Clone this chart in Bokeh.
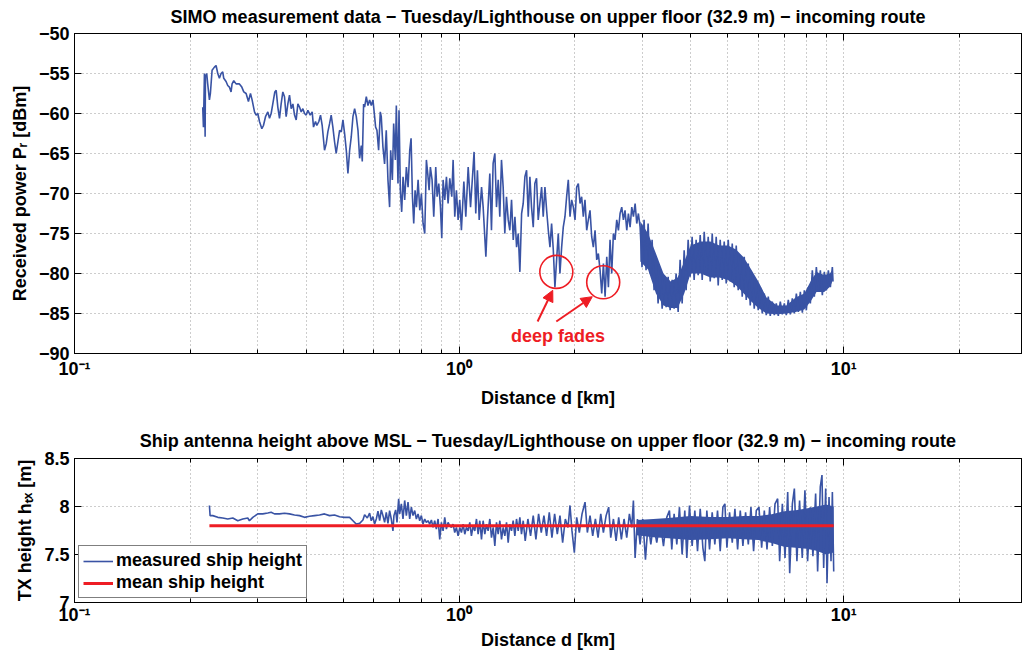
from bokeh.plotting import figure
from bokeh.layouts import column
from bokeh.models import (Range1d, FixedTicker, CustomJSTickFormatter, LogAxis, LinearAxis,
                          Legend, LegendItem, Arrow, NormalHead, Label)
from bokeh.embed import file_html
from bokeh.resources import INLINE

# ---------------- data ----------------
# Received power trace: distance [km] / power [dBm]
power_dist = [
    0.2155, 0.2164, 0.2177, 0.2186, 0.2190, 0.2207, 0.2220, 0.2243, 0.2256, 0.2279,
    0.2311, 0.2334, 0.2358, 0.2381, 0.2405, 0.2429, 0.2444, 0.2478, 0.2503, 0.2528,
    0.2553, 0.2569, 0.2595, 0.2631, 0.2684, 0.2723, 0.2755, 0.2794, 0.2833, 0.2868,
    0.2896, 0.2938, 0.2967, 0.2997, 0.3027, 0.3070, 0.3100, 0.3138, 0.3182, 0.3214,
    0.3246, 0.3278, 0.3318, 0.3345, 0.3378, 0.3412, 0.3446, 0.3481, 0.3516, 0.3551,
    0.3587, 0.3623, 0.3660, 0.3697, 0.3734, 0.3771, 0.3809, 0.3847, 0.3886, 0.3925,
    0.3964, 0.4004, 0.4044, 0.4101, 0.4150, 0.4183, 0.4233, 0.4267, 0.4319, 0.4362,
    0.4406, 0.4468, 0.4513, 0.4558, 0.4604, 0.4650, 0.4697, 0.4744, 0.4791, 0.4842,
    0.4890, 0.4940, 0.4989, 0.5039, 0.5090, 0.5140, 0.5193, 0.5244, 0.5297, 0.5351,
    0.5404, 0.5459, 0.5513, 0.5568, 0.5601, 0.5646, 0.5680, 0.5738, 0.5795, 0.5853,
    0.5912, 0.5971, 0.6031, 0.6067, 0.6115, 0.6177, 0.6239, 0.6276, 0.6339, 0.6402,
    0.6466, 0.6532, 0.6597,
    0.6639, 0.6706, 0.6759, 0.6827, 0.6868, 0.6937, 0.6979, 0.7035, 0.7092, 0.7150,
    0.7221, 0.7294, 0.7368, 0.7442, 0.7502, 0.7563, 0.7622, 0.7684, 0.7746, 0.7824,
    0.7902, 0.7980, 0.8060, 0.8142, 0.8222, 0.8289, 0.8356, 0.8421, 0.8507, 0.8593,
    0.8696, 0.8767, 0.8855, 0.8944, 0.9015, 0.9087, 0.9179, 0.9271, 0.9363, 0.9458,
    0.9572, 0.9649, 0.9745, 0.9842, 0.9942,
    1.004, 1.014, 1.029, 1.041, 1.056, 1.071, 1.083, 1.094, 1.105, 1.116,
    1.128, 1.144, 1.155, 1.174, 1.185, 1.202, 1.214, 1.226, 1.239, 1.251,
    1.264, 1.276, 1.289, 1.302, 1.315, 1.328, 1.342, 1.355, 1.369, 1.383,
    1.397, 1.411, 1.425, 1.439, 1.454, 1.468, 1.483, 1.498, 1.513, 1.528,
    1.543, 1.559, 1.574, 1.590, 1.606, 1.622, 1.639, 1.655, 1.672, 1.689,
    1.706, 1.723, 1.740, 1.758, 1.775, 1.793, 1.811, 1.829, 1.848, 1.866,
    1.885, 1.904, 1.923, 1.943, 1.962, 1.982, 2.002, 2.022, 2.042, 2.063,
    2.083, 2.104, 2.125, 2.147, 2.168, 2.190, 2.212, 2.234, 2.257, 2.280,
    2.302, 2.326, 2.349, 2.373, 2.397, 2.421, 2.445, 2.469, 2.494, 2.519,
    2.544, 2.570, 2.596, 2.622, 2.648, 2.675, 2.701, 2.729, 2.756, 2.784,
    2.812, 2.840, 2.869, 2.897, 2.926, 2.956,
    2.990, 3.027, 3.063, 3.101, 3.138, 3.176, 3.214, 3.253, 3.292, 3.332,
    3.373, 3.413, 3.455, 3.496, 3.538, 3.581, 3.624, 3.667, 3.712, 3.756,
    3.802, 3.848, 3.894, 3.941, 3.989, 4.036, 4.085, 4.134, 4.184, 4.236,
    4.287, 4.339, 4.391, 4.444, 4.498, 4.552, 4.607, 4.662, 4.718, 4.775,
    4.833, 4.891, 4.950, 5.010, 5.070, 5.132, 5.193, 5.256, 5.319, 5.383,
    5.448, 5.514, 5.580, 5.648, 5.716, 5.785, 5.854, 5.925, 5.996, 6.069,
    6.142, 6.216, 6.291, 6.367, 6.444, 6.522, 6.601, 6.680, 6.761, 6.843,
    6.925, 7.009, 7.093, 7.178, 7.265, 7.353, 7.441, 7.533, 7.624, 7.715,
    7.808, 7.902, 7.997, 8.094, 8.191, 8.289, 8.389, 8.491, 8.593, 8.697,
    8.801, 8.907, 9.015, 9.124, 9.234, 9.345, 9.382,
]
power_dbm = [
    -59.2, -61.7, -55.0, -62.9, -55.4, -55.0, -56.3, -58.3, -57.5, -54.6,
    -54.2, -54.0, -55.0, -55.6, -55.0, -54.8, -55.6, -56.0, -56.5, -56.7,
    -57.3, -56.3, -55.9, -56.3, -56.3, -56.7, -57.3, -57.5, -58.5, -57.5,
    -58.3, -59.8, -60.2, -60.0, -61.0, -61.9, -61.5, -60.4, -59.8, -60.6,
    -60.0, -58.8, -57.3, -57.1, -59.2, -60.6, -58.8, -57.3, -57.9, -60.4,
    -58.8, -57.7, -59.4, -58.8, -60.2, -60.8, -58.8, -59.2, -59.8, -59.4,
    -60.0, -60.2, -59.6, -60.2, -59.8, -61.7, -61.0, -61.5, -61.0, -60.2,
    -61.5, -64.6, -63.8, -62.3, -61.3, -60.2, -61.7, -63.5, -65.0, -63.5,
    -62.1, -62.3, -60.8, -62.5, -64.6, -67.5, -64.6, -62.9, -60.4, -59.4,
    -60.4, -62.1, -65.6, -64.0, -66.0, -58.8, -59.2, -57.9, -59.0, -58.3,
    -59.0, -58.3, -60.4, -61.7, -62.1, -64.6, -59.8, -60.4, -64.2, -66.3,
    -62.1, -68.3, -71.7,
    -64.6, -68.3, -61.25, -65.8, -59.0, -68.75, -59.6, -69.6, -72.3, -67.9,
    -70.8, -66.7, -69.2, -64.6, -63.1, -70.4, -73.75, -69.6, -71.7, -68.3,
    -72.1, -70.0, -73.75, -75.0, -65.8, -67.5, -69.6, -66.7, -68.3, -72.9,
    -66.7, -70.4, -68.75, -71.7, -75.6, -68.3, -70.8, -67.9, -71.25, -68.1,
    -70.4, -65.8, -72.9, -69.6, -73.3,
    -70.8, -74.6, -68.5, -72.9, -66.7, -71.7, -68.1, -64.8, -72.5, -67.1,
    -73.3, -69.2, -71.7, -77.9, -73.3, -67.5, -74.6, -66.25, -65.0, -71.7,
    -68.3, -72.9, -65.8, -69.2, -75.0, -70.4, -73.3, -74.6, -70.8, -75.8,
    -72.9, -76.7, -75.0, -79.8, -72.5, -71.25, -67.9, -67.1, -72.9, -67.9,
    -71.7, -74.2, -68.75, -68.1, -73.3, -71.25, -69.2, -72.9, -69.2, -72.1,
    -74.6, -76.7, -73.75, -77.1, -81.7, -78.3, -75.0, -80.0, -76.7, -74.2,
    -72.9, -70.4, -68.3, -72.9, -70.8, -71.7, -73.3, -69.2, -68.75, -71.25,
    -70.4, -72.9, -70.8, -74.6, -73.3, -72.1, -75.4, -76.7, -74.6, -78.3,
    -77.5, -79.6, -82.5, -78.75, -82.9, -77.9, -81.7, -75.8, -80.0, -75.0,
    -75.8, -73.3, -74.6, -72.5, -71.7, -73.3, -72.1, -74.6, -72.5, -74.2,
    -71.7, -72.9, -71.25, -73.75, -72.5, -74.2,
    -79.2, -73.3, -79.6, -73.75, -80.0, -75.8, -82.1, -77.9, -83.75, -79.6,
    -84.4, -80.8, -84.2, -80.4, -84.6, -80.8, -84.4, -80.0, -84.8, -78.3,
    -83.75, -77.1, -82.1, -75.8, -80.4, -75.4, -80.8, -75.8, -80.2, -75.2,
    -80.8, -74.8, -80.0, -75.4, -81.0, -75.0, -80.6, -75.4, -81.5, -75.8,
    -80.8, -76.0, -81.25, -75.8, -81.0, -76.25, -81.7, -76.5, -82.1, -77.7,
    -82.9, -77.9, -83.3, -78.75, -84.0, -80.0, -84.4, -80.8, -84.6, -81.7,
    -85.0, -82.5, -85.2, -82.9, -85.3, -83.5, -85.2, -83.75, -85.3, -83.5,
    -85.1, -83.75, -85.2, -83.3, -85.1, -83.1, -85.0, -82.5, -84.8, -82.3,
    -84.9, -82.1, -84.6, -81.7, -83.75, -79.6, -82.9, -79.2, -82.1, -79.6,
    -82.7, -79.8, -82.1, -79.6, -81.7, -79.2, -81.0,
]
# dense (solid) core of the received power trace beyond ~3 km
power_core_dist = [2.96, 3.1, 3.25, 3.4, 3.55, 3.7, 3.85, 4.0, 4.25, 4.5, 4.75, 5.0, 5.25,
                   5.5, 5.75, 6.0, 6.3, 6.7, 7.1, 7.5, 7.9, 8.2, 8.5, 8.9, 9.2, 9.38]
power_core_hi = [-73.5, -75.0, -77.5, -80.0, -81.0, -80.5, -78.5, -76.5, -76.0, -76.0, -76.5,
                 -76.5, -77.0, -78.0, -79.5, -81.0, -83.0, -84.0, -84.0, -83.0, -82.5, -81.0,
                 -79.8, -80.2, -80.0, -79.5]
power_core_lo = [-78.5, -79.5, -82.5, -84.0, -84.3, -84.3, -82.5, -80.0, -80.0, -80.5, -80.5,
                 -80.8, -81.5, -82.5, -83.5, -84.3, -85.0, -85.1, -85.0, -84.8, -84.5, -83.5,
                 -82.3, -82.3, -81.7, -80.8]

# deep fades (circled)
fade_dist = [1.79, 2.37]
fade_dbm = [-79.8, -81.1]

# Ship antenna height trace: distance [km] / height [m]
height_dist = [
    0.2243, 0.2252, 0.2288, 0.2358, 0.2429, 0.2503, 0.2580, 0.2658, 0.2739, 0.2822,
    0.2850, 0.2908, 0.2996, 0.3087, 0.3181, 0.3245, 0.3311, 0.3411, 0.3516, 0.3623,
    0.3733, 0.3847, 0.3963, 0.4084, 0.4208, 0.4336, 0.4468, 0.4604, 0.4744, 0.4890,
    0.5039, 0.5192, 0.5297, 0.5404, 0.5513, 0.5623, 0.5680, 0.5772, 0.5853, 0.5911,
    0.5971, 0.6031, 0.6092, 0.6153, 0.6215, 0.6277, 0.6340, 0.6403, 0.6467, 0.6532,
    0.6597, 0.6663, 0.6730, 0.6770, 0.6840, 0.6895, 0.6964, 0.7006, 0.7077, 0.7148,
    0.7220, 0.7293, 0.7366, 0.7440, 0.7515, 0.7590, 0.7666, 0.7743, 0.7821, 0.7899,
    0.7978, 0.8058, 0.8139, 0.8220, 0.8303, 0.8386, 0.8472, 0.8556, 0.8643, 0.8728,
    0.8818, 0.8906, 0.8995, 0.9087, 0.9177, 0.9269, 0.9363, 0.9456, 0.9552, 0.9647,
    0.9743, 0.9842, 0.9940, 1.0041, 1.0141, 1.0243, 1.0347, 1.0450, 1.0556, 1.0661,
    1.0767, 1.0877, 1.0986, 1.1097, 1.1208, 1.1320, 1.1435, 1.1548, 1.1666, 1.1782,
    1.1899, 1.2020, 1.2140, 1.2264, 1.2386, 1.2510, 1.2637, 1.2763, 1.2893, 1.3021,
    1.3151, 1.3285, 1.3417, 1.3552, 1.3687, 1.3824, 1.3964, 1.4103, 1.4247, 1.4388,
    1.4532, 1.4680,
    1.4859, 1.5098, 1.5342, 1.5589, 1.5841, 1.6096, 1.6356, 1.6619, 1.6886, 1.7160,
    1.7436, 1.7719, 1.8004, 1.8296, 1.8589, 1.8891, 1.9194, 1.9426, 1.9660, 1.9938,
    2.0220, 2.0545, 2.0879, 2.1257, 2.1554, 2.1904, 2.2256, 2.2617, 2.2980, 2.3354,
    2.3728, 2.4114, 2.4491, 2.4793, 2.5196, 2.5600, 2.6002, 2.6424, 2.6850, 2.7288,
    2.7726, 2.8118, 2.8397, 2.8687, 2.9093, 2.9560, 3.0034, 3.0522, 3.1011, 3.1515,
    3.2020, 3.2659, 3.3320, 3.4000, 3.4674, 3.5237, 3.5734, 3.6235, 3.6823, 3.7411,
    3.8019, 3.8628, 3.9093, 3.9727, 4.0365, 4.1020, 4.1687, 4.2364, 4.3043, 4.3551,
    4.4076, 4.4793, 4.5510, 4.6238, 4.6990, 4.7753, 4.8529, 4.9113, 4.9705, 5.0503,
    5.1323, 5.2147, 5.2995, 5.3845, 5.4702, 5.5590, 5.6494, 5.7397, 5.8318, 5.9266,
    6.0222, 6.1199, 6.2181, 6.3185, 6.4199, 6.5243, 6.6289, 6.7352, 6.8164, 6.9270,
    7.0382, 7.1528, 7.2389, 7.3550, 7.4437, 7.5585, 7.6797, 7.8045, 7.9296, 8.0590,
    8.1881, 8.3195, 8.4547, 8.5566, 8.6937, 8.7823, 8.8716, 8.9786, 9.0513, 9.1604,
    9.2707, 9.3457, 9.4214,
]
height_m = [
    8.011, 7.905, 7.905, 7.887, 7.880, 7.870, 7.880, 7.852, 7.870, 7.880,
    7.852, 7.887, 7.923, 7.923, 7.933, 7.940, 7.923, 7.923, 7.930, 7.923,
    7.912, 7.905, 7.887, 7.898, 7.905, 7.912, 7.923, 7.905, 7.912, 7.894,
    7.887, 7.887, 7.852, 7.817, 7.824, 7.859, 7.915, 7.880, 7.930, 7.852,
    7.894, 7.817, 7.870, 7.951, 7.852, 7.965, 7.905, 7.835, 7.940, 7.824,
    7.958, 7.870, 7.746, 7.905, 7.965, 7.835, 8.081, 7.923, 8.028, 7.870,
    8.063, 7.905, 8.046, 7.870, 7.993, 7.905, 7.958, 7.870, 7.923, 7.852,
    7.905, 7.817, 7.870, 7.835, 7.852, 7.817, 7.859, 7.782, 7.852, 7.764,
    7.870, 7.658, 7.835, 7.746, 7.887, 7.764, 7.835, 7.799, 7.782, 7.817,
    7.729, 7.782, 7.694, 7.782, 7.729, 7.817, 7.711, 7.782, 7.746, 7.835,
    7.694, 7.799, 7.746, 7.870, 7.711, 7.852, 7.658, 7.852, 7.711, 7.817,
    7.746, 7.870, 7.676, 7.782, 7.588, 7.835, 7.711, 7.852, 7.658, 7.782,
    7.694, 7.835, 7.623, 7.817, 7.746, 7.852, 7.694, 7.870, 7.746, 7.887,
    7.711, 7.852,
    7.641, 7.870, 7.694, 7.905, 7.658, 7.923, 7.729, 7.905, 7.694, 7.940,
    7.676, 7.923, 7.711, 7.905, 7.623, 7.870, 7.782, 8.011, 7.746, 7.518,
    7.887, 7.729, 7.923, 8.046, 7.729, 7.905, 7.694, 7.870, 7.676, 7.923,
    7.729, 7.905, 7.993, 7.676, 7.870, 7.641, 7.887, 7.658, 7.870, 7.676,
    7.923, 7.782, 8.063, 7.465, 7.870, 7.606, 7.870, 7.447, 7.835, 7.606,
    7.817, 7.623, 7.852, 7.588, 7.887, 7.958, 7.553, 7.923, 7.606, 7.993,
    7.500, 7.958, 7.465, 8.011, 7.588, 7.958, 7.535, 7.975, 7.570, 7.430,
    7.958, 7.553, 7.940, 7.606, 7.958, 7.535, 7.993, 8.028, 7.570, 7.940,
    7.623, 7.975, 7.553, 7.958, 7.588, 7.940, 7.606, 7.993, 7.535, 7.958,
    7.993, 7.570, 7.958, 7.553, 7.993, 7.588, 8.028, 8.081, 7.430, 8.028,
    7.465, 8.151, 7.306, 8.028, 8.187, 7.430, 8.063, 7.465, 8.169, 7.430,
    7.993, 7.482, 8.134, 7.324, 8.204, 8.327, 7.359, 8.187, 7.201, 8.099,
    7.430, 8.151, 7.324,
]
# dense (solid) core of the height trace beyond ~3 km
height_core_dist = [2.9, 3.2, 3.5, 4.0, 4.5, 5.0, 5.5, 6.0, 6.5, 7.0, 7.5, 8.0, 8.5, 9.0, 9.42]
height_core_hi = [7.86, 7.87, 7.88, 7.90, 7.89, 7.89, 7.90, 7.90, 7.92, 7.95, 7.96, 7.98, 8.00, 8.02, 8.00]
height_core_lo = [7.70, 7.68, 7.67, 7.65, 7.66, 7.67, 7.66, 7.65, 7.62, 7.58, 7.57, 7.56, 7.54, 7.50, 7.52]

mean_ship_height = 7.80

x_major = [0.1, 1, 10]
x_minor = [0.2, 0.3, 0.4, 0.5, 0.6, 0.7, 0.8, 0.9, 2, 3, 4, 5, 6, 7, 8, 9, 20]
power_ticks = [-90, -85, -80, -75, -70, -65, -60, -55, -50]
height_ticks = [7, 7.5, 8, 8.5]

# ---------------- styling ----------------
FONT = "Liberation Sans"
FS = "18px"
BLUE = "#3953a4"
RED = "#ee1d24"
GRID = "#9a9a9a"
LW = 1.6

X_FMT = CustomJSTickFormatter(code="""
const e = Math.round(Math.log10(tick));
const sup = {'-1': '\u207b\u00b9', '0': '\u2070', '1': '\u00b9'};
return '10' + sup[String(e)];
""")
NEG_FMT = CustomJSTickFormatter(code="return tick < 0 ? '\u2212' + Math.abs(tick) : '' + tick;")
PLAIN_FMT = CustomJSTickFormatter(code="return '' + tick;")


def make_fig(height, yr, title, bt, bb, title_standoff, title_valign):
    p = figure(width=1022, height=height, x_axis_type="log",
               x_range=Range1d(0.1, 29), y_range=Range1d(*yr),
               output_backend="svg", toolbar_location=None,
               min_border_left=74, min_border_right=1,
               min_border_top=bt, min_border_bottom=bb,
               background_fill_color="white", border_fill_color="white")
    p.title.text = title
    p.title.align = "center"
    p.title.vertical_align = title_valign
    p.title.text_font = FONT
    p.title.text_font_size = FS
    p.title.text_font_style = "bold"
    p.title.text_color = "black"
    p.title.standoff = title_standoff
    p.outline_line_color = "black"
    p.outline_line_width = 1
    return p


def tick_style(ax):
    ax.axis_line_color = "black"
    ax.major_tick_line_color = "black"
    ax.minor_tick_line_color = "black"
    ax.major_tick_in = 7
    ax.major_tick_out = 0
    ax.minor_tick_in = 4
    ax.minor_tick_out = 0


def style_axes(p, yticks, yfmt, ylabel, x_label_standoff, x_axis_label_standoff):
    xt = FixedTicker(ticks=x_major, minor_ticks=x_minor)
    yt = FixedTicker(ticks=yticks, minor_ticks=[])
    main_x = p.below[0]
    main_y = p.left[0]
    main_x.ticker = xt
    main_x.formatter = X_FMT
    main_x.axis_label = "Distance d [km]"
    main_y.ticker = yt
    main_y.formatter = yfmt
    main_y.axis_label = ylabel
    for ax in (main_x, main_y):
        tick_style(ax)
        ax.major_label_text_font = FONT
        ax.major_label_text_font_style = "bold"
        ax.major_label_text_font_size = FS
        ax.major_label_text_color = "black"
        ax.axis_label_text_font = FONT
        ax.axis_label_text_font_style = "bold"
        ax.axis_label_text_font_size = FS
        ax.axis_label_text_color = "black"
    main_y.major_label_standoff = 5
    main_y.axis_label_standoff = 6
    main_x.major_label_standoff = x_label_standoff
    main_x.axis_label_standoff = x_axis_label_standoff
    main_y.minor_tick_line_color = None
    # box ticks on top and right (no labels), like the reference
    top = LogAxis(ticker=xt, major_label_text_font_size="0px", major_label_text_color=None,
                  major_label_standoff=0, axis_label_standoff=0)
    right = LinearAxis(ticker=yt, major_label_text_font_size="0px", major_label_text_color=None,
                       major_label_standoff=0, axis_label_standoff=0)
    tick_style(top)
    tick_style(right)
    right.minor_tick_line_color = None
    p.add_layout(top, "above")
    p.add_layout(right, "right")
    p.xgrid.grid_line_color = GRID
    p.xgrid.grid_line_dash = "1 3"
    p.xgrid.minor_grid_line_color = GRID
    p.xgrid.minor_grid_line_dash = "1 3"
    p.ygrid.grid_line_color = GRID
    p.ygrid.grid_line_dash = "1 3"


# ---------------- top: received power ----------------
p1 = make_fig(410, (-90, -50),
              "SIMO measurement data \u2212 Tuesday/Lighthouse on upper floor (32.9 m) \u2212 incoming route",
              33, 57, 10, "top")
style_axes(p1, power_ticks, NEG_FMT, "Received power P\u1d63 [dBm]", 5, 6)

p1.varea(x=power_core_dist, y1=power_core_lo, y2=power_core_hi, fill_color=BLUE, fill_alpha=1.0)
p1.line(power_dist, power_dbm, line_color=BLUE, line_width=LW)

p1.scatter(fade_dist, fade_dbm, marker="circle", size=33, fill_color=None,
           line_color=RED, line_width=1.6)
p1.add_layout(Arrow(end=NormalHead(size=11, fill_color=RED, line_color=RED),
                    x_start=1.60, y_start=-86.0, x_end=1.752, y_end=-82.1,
                    line_color=RED, line_width=2))
p1.add_layout(Arrow(end=NormalHead(size=11, fill_color=RED, line_color=RED),
                    x_start=1.79, y_start=-86.0, x_end=2.22, y_end=-82.9,
                    line_color=RED, line_width=2))
p1.add_layout(Label(x=1.807, y=-87.8, text="deep fades", text_align="center",
                    text_baseline="middle", text_color=RED, text_font=FONT,
                    text_font_style="bold", text_font_size=FS))

# ---------------- bottom: ship antenna height ----------------
p2 = make_fig(244, (7, 8.5),
              "Ship antenna height above MSL \u2212 Tuesday/Lighthouse on upper floor (32.9 m) \u2212 incoming route",
              48, 52, 16, "bottom")
style_axes(p2, height_ticks, PLAIN_FMT, "TX height h\u209c\u2093 [m]", 2, 2)

p2.varea(x=height_core_dist, y1=height_core_lo, y2=height_core_hi, fill_color=BLUE, fill_alpha=1.0)
h_line = p2.line(height_dist, height_m, line_color=BLUE, line_width=LW)
m_line = p2.line([min(height_dist), max(height_dist)], [mean_ship_height, mean_ship_height],
                 line_color=RED, line_width=3)

legend = Legend(items=[LegendItem(label="measured ship height", renderers=[h_line]),
                       LegendItem(label="mean ship height", renderers=[m_line])],
                location="bottom_left")
legend.label_text_font = FONT
legend.label_text_font_size = FS
legend.label_text_font_style = "bold"
legend.label_text_color = "black"
legend.border_line_color = "black"
legend.border_line_width = 1
legend.background_fill_color = "white"
legend.background_fill_alpha = 1
legend.glyph_width = 30
legend.glyph_height = 20
legend.label_height = 20
legend.label_standoff = 3
legend.padding = 4
legend.spacing = 1
legend.margin = 4
p2.add_layout(legend)

layout = column(p1, p2)
open("out.html", "w").write(file_html(layout, INLINE))
